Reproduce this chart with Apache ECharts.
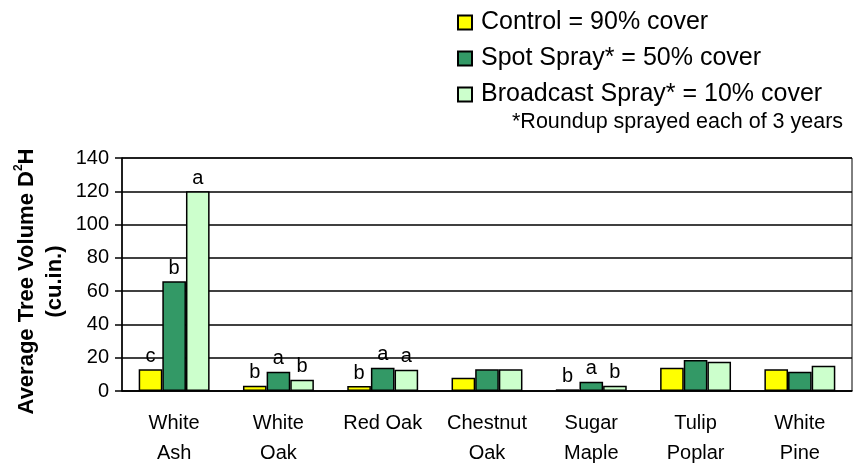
<!DOCTYPE html>
<html lang="en">
  <head>
    <meta charset="UTF-8" />
    <title>Average Tree Volume</title>
    <style>
      html, body { margin: 0; padding: 0; background: #fff; }
      #main { width: 854px; height: 466px; }
    </style>
  </head>
  <body>
    <div id="main"></div>
    <script src="https://cdn.jsdelivr.net/npm/echarts@6/dist/echarts.min.js"></script>
    <script>
      const categories = ["White\nAsh", "White\nOak", "Red Oak", "Chestnut\nOak", "Sugar\nMaple", "Tulip\nPoplar", "White\nPine"];
      const seriesNames = ["Control = 90% cover", "Spot Spray* = 50% cover", "Broadcast Spray* = 10% cover"];
      const control = [13, 3.2, 3, 8, 1, 14, 13];
      const spot = [66, 11.6, 14, 13, 5.6, 18.6, 11.6];
      const broadcast = [120, 6.8, 12.8, 13, 3.2, 17.6, 15.2];
      const controlLetters = ["c", "b", "b", "", "b", "", ""];
      const spotLetters = ["b", "a", "a", "", "a", "", ""];
      const broadcastLetters = ["a", "b", "a", "", "b", "", ""];
      const yTicks = [0, 20, 40, 60, 80, 100, 120, 140];

      const colors = ["#FFFF00", "#339966", "#CCFFCC"];
      const font = "Liberation Sans, Arial, sans-serif";

      function makeSeries(name, values, letters, color) {
        return {
          name: name,
          type: "bar",
          data: values,
          barGap: "0%",
          barCategoryGap: "32%",
          itemStyle: { color: color, borderColor: "#000", borderWidth: 1.5 },
          label: {
            show: true,
            position: "top",
            distance: 3,
            fontFamily: font,
            fontSize: 20,
            color: "#000",
            formatter: (p) => letters[p.dataIndex],
          },
        };
      }

      const myChart = echarts.init(document.getElementById("main"));
      const option = {
        animation: false,
        textStyle: { fontFamily: font },
        grid: {
          left: 122, right: 2, top: 158, bottom: 75,
          outerBoundsMode: "none",
          show: true, borderColor: "#000", borderWidth: 1,
        },
        legend: {
          orient: "vertical",
          left: 452,
          top: 5,
          itemGap: 11,
          itemWidth: 14,
          itemHeight: 14,
          icon: "rect",
          textStyle: { fontSize: 25, color: "#000", fontFamily: font, padding: [0, 0, 0, 4] },
          data: seriesNames,
        },
        graphic: [
          {
            type: "text",
            left: 512,
            top: 111,
            style: { text: "*Roundup sprayed each of 3 years", fontSize: 21.5, fontFamily: font, fill: "#000" },
          },
        ],
        xAxis: {
          type: "category",
          data: categories,
          axisLine: { lineStyle: { color: "#000", width: 1.5 } },
          axisTick: { length: 7, lineStyle: { color: "#000", width: 1.5 } },
          axisLabel: { color: "#000", fontSize: 20, lineHeight: 30, margin: 17, fontFamily: font },
        },
        yAxis: {
          type: "value",
          min: yTicks[0],
          max: yTicks[yTicks.length - 1],
          interval: 20,
          name: "Average Tree Volume D{sup|2}H\n(cu.in.)",
          nameLocation: "middle",
          nameGap: 53,
          nameMoveOverlap: false,
          nameTextStyle: {
            fontSize: 22,
            fontWeight: "bold",
            color: "#000",
            lineHeight: 28,
            fontFamily: font,
            padding: [0, 14, 0, 0],
            rich: {
              sup: { fontSize: 12, fontWeight: "bold", verticalAlign: "top", padding: [0, 0, 10, 0] },
            },
          },
          axisLine: { show: true, lineStyle: { color: "#000", width: 1.5 } },
          axisTick: { show: true, length: 7, lineStyle: { color: "#000", width: 1.5 } },
          axisLabel: { color: "#000", fontSize: 20, margin: 13, fontFamily: font },
          splitLine: { lineStyle: { color: "#000", width: 1.5 } },
        },
        series: [
          makeSeries(seriesNames[0], control, controlLetters, colors[0]),
          makeSeries(seriesNames[1], spot, spotLetters, colors[1]),
          makeSeries(seriesNames[2], broadcast, broadcastLetters, colors[2]),
        ],
      };
      myChart.setOption(option);
    </script>
  </body>
</html>
